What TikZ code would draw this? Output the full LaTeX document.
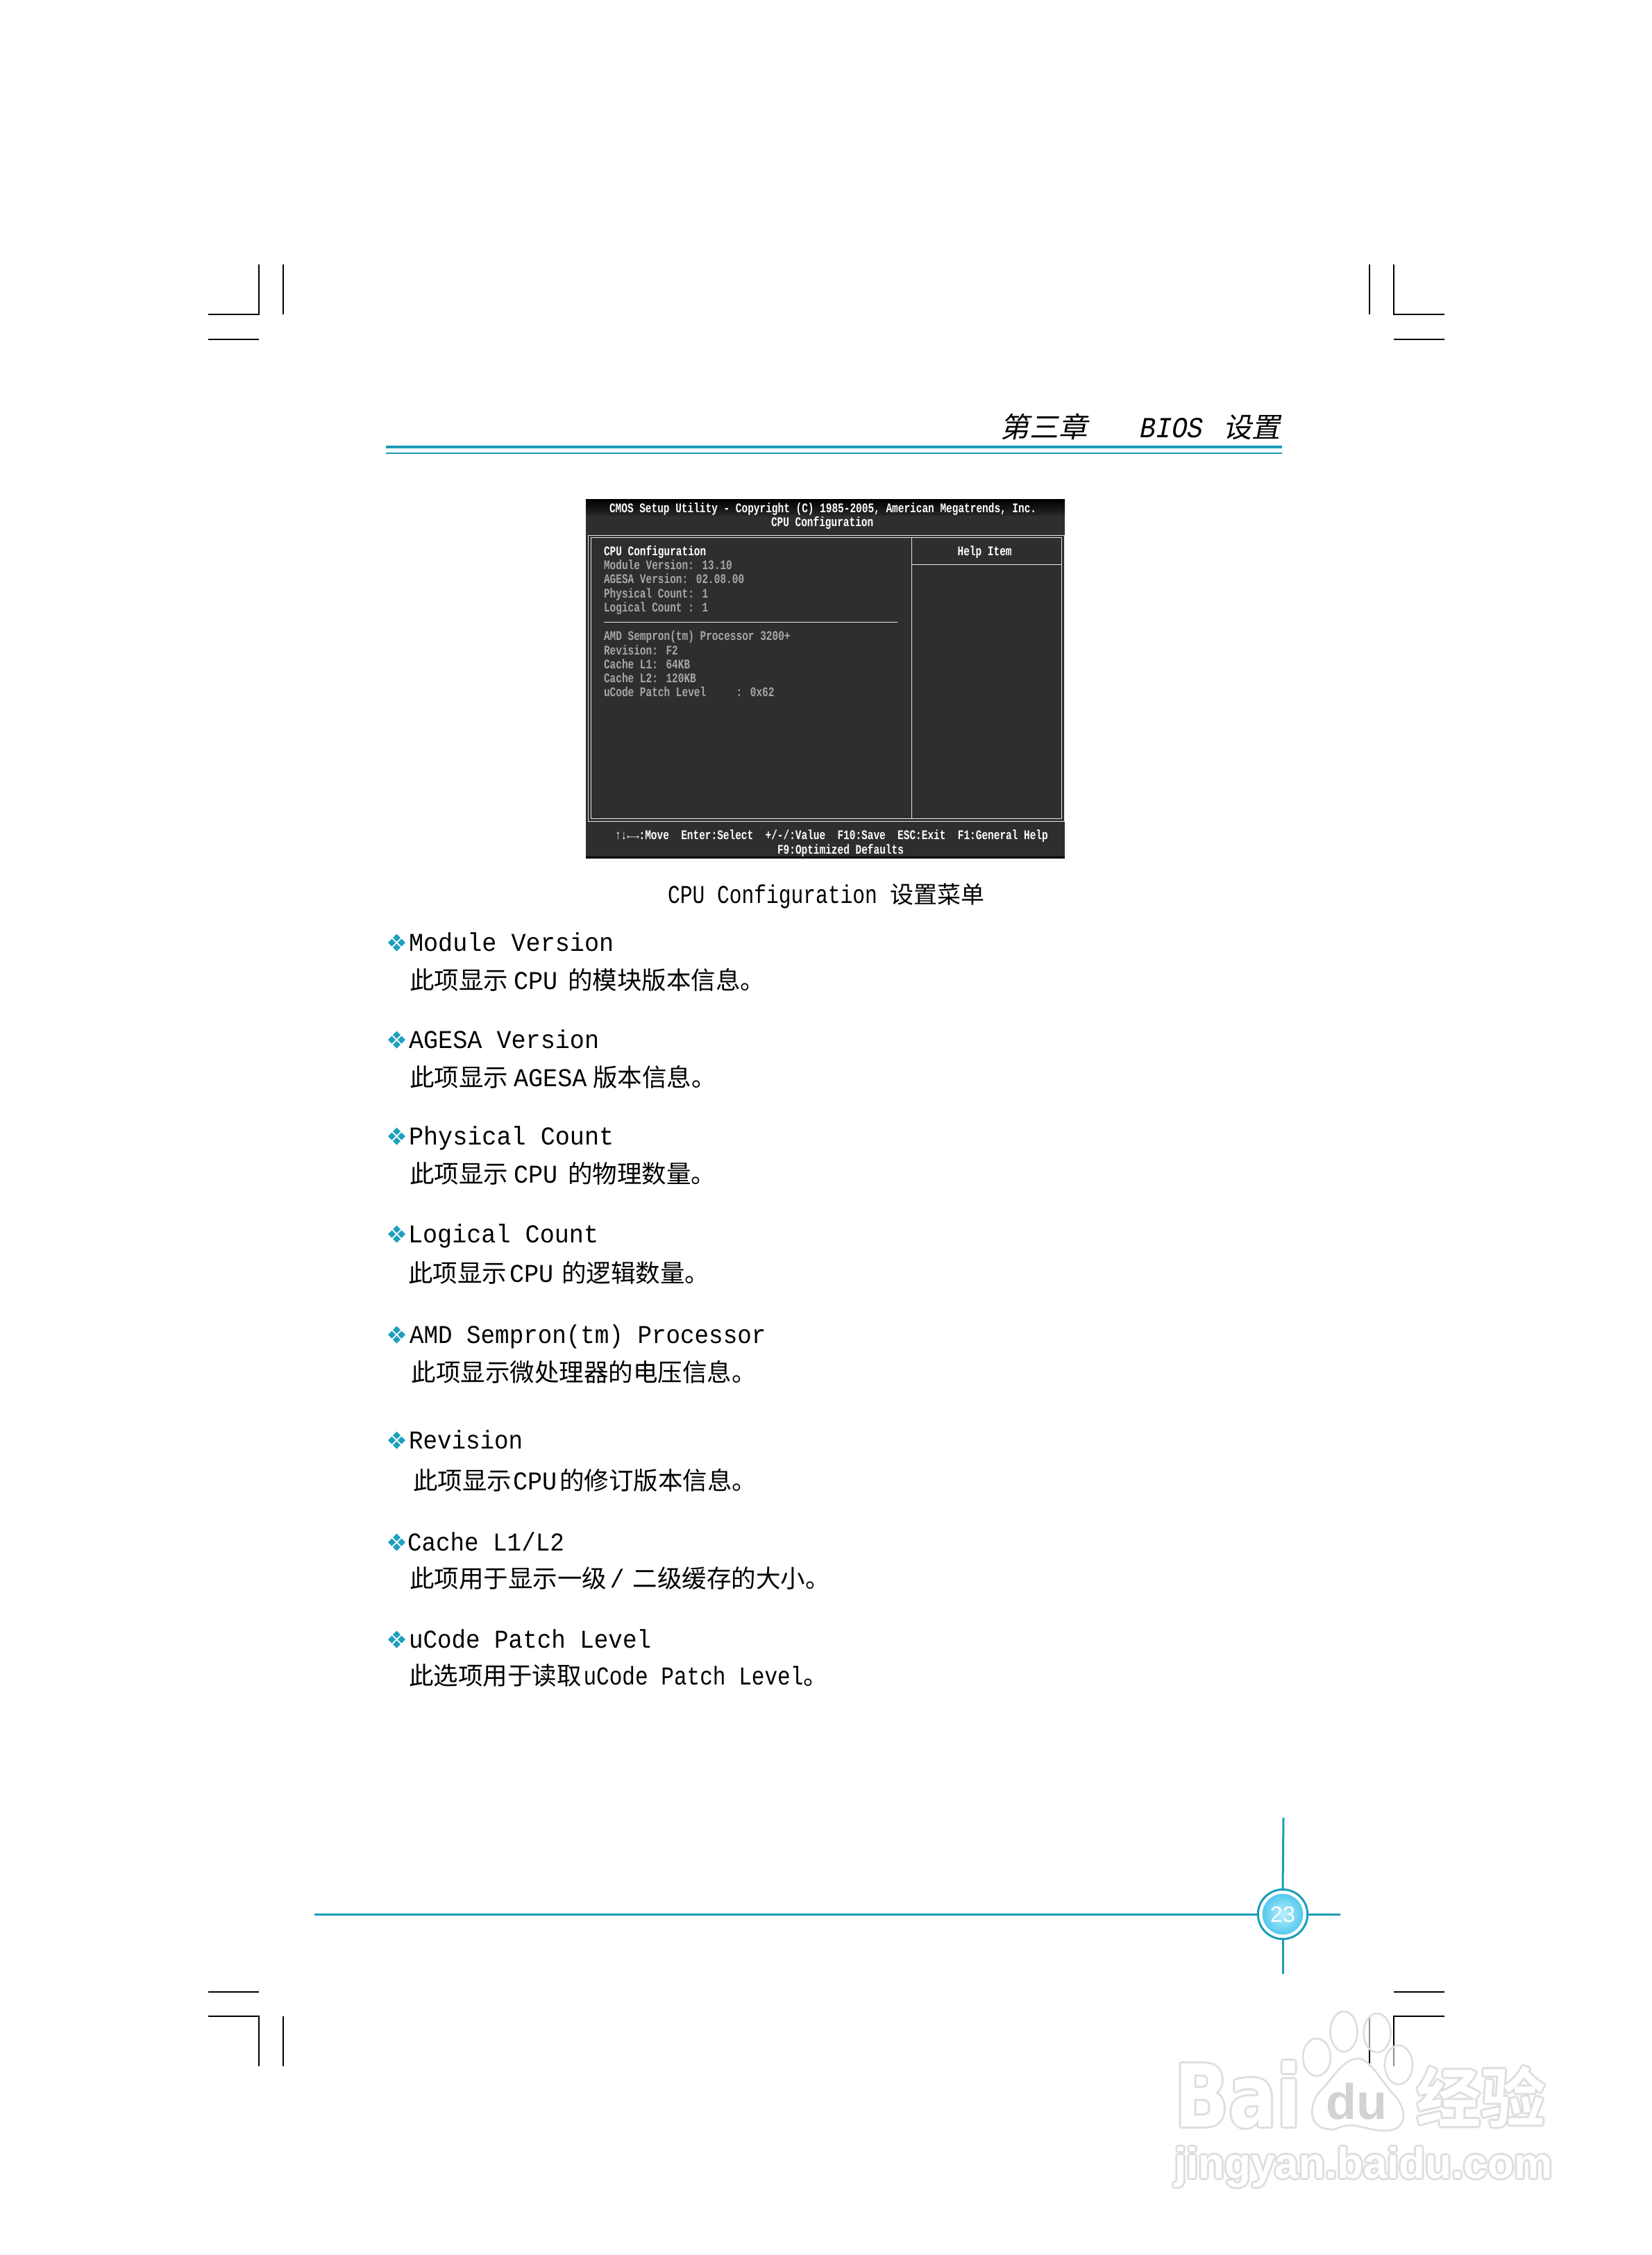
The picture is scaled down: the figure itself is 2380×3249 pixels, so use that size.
\documentclass[tikz,border=0pt]{standalone}
\usepackage{fontspec}
\setmainfont{Liberation Mono}
\newfontfamily\latf[FakeStretch=.95]{Liberation Mono}
\newfontfamily\lats[FakeStretch=.925]{Liberation Mono}
\newfontfamily\latu[FakeStretch=.84]{Liberation Mono}
\newfontfamily\latn[FakeStretch=.8]{Liberation Mono}
\newfontfamily\cjk{Noto Sans CJK SC}
\newfontfamily\cjkb{Noto Sans CJK SC Bold}
\newfontfamily\cjks[FakeSlant=.2,FakeStretch=1.03]{Noto Sans CJK SC}
\newfontfamily\hdrf[FakeSlant=.2,FakeStretch=.9]{Liberation Mono}
\newfontfamily\biosf[FakeStretch=.76]{Liberation Mono Bold}
\newfontfamily\numf{Liberation Sans}
\newfontfamily\wmbig[FakeStretch=.82]{DejaVu Sans Bold}
\newfontfamily\wmreg{Liberation Sans Bold}
\definecolor{bandteal}{HTML}{1A9CB8}
\definecolor{bulletteal}{HTML}{1F9FBE}
\definecolor{biosbg}{HTML}{2E2E2E}
\definecolor{biosgrey}{HTML}{A6A6A6}
\definecolor{biosline}{HTML}{E8E8E8}
\definecolor{wmgrey}{HTML}{DEDEDE}
\definecolor{wmdu}{HTML}{D2D2D2}
\definecolor{pginner}{HTML}{B8F0FB}
\definecolor{pgouter}{HTML}{55C8EE}
\newcommand\LL[1]{{\latf\fontsize{11.1}{13}\selectfont #1}}
\newcommand\LU[1]{{\latu\fontsize{11.1}{13}\selectfont #1}}
\newcommand\LN[1]{{\latn\fontsize{11.1}{13}\selectfont #1}}
\newcommand\wmtext[5]{%
  \foreach \dx/\dy [count=\k] in {-3/0,3/0,0/-3,0/3,-2/-2,2/-2,-2/2,2/2}{%
    \node[wmbase,text=wmgrey,font=#4,name=#1\k] at (#2+\dx,#3+\dy) {#5};}
  \node[wmbase,text=white,font=#4] (#1) at (#2,#3) {#5};}
\tikzset{
  crop/.style={line width=.6pt,black},
  band/.style={bandteal,line width=.9pt},
  head/.style={anchor=base west,inner sep=0,outer sep=0,font=\latf\fontsize{11.1}{13}\selectfont},
  headn/.style={anchor=base west,inner sep=0,outer sep=0,font=\lats\fontsize{11.1}{13}\selectfont},
  bodytxt/.style={anchor=base west,inner sep=0,outer sep=0,font=\cjk\fontsize{10.65}{13}\selectfont},
  bios/.style={anchor=base west,inner sep=0,outer sep=0,text=biosgrey,font=\biosf\fontsize{5.7}{7}\selectfont},
  biosw/.style={bios,text=white},
  bframe/.style={biosline,line width=.3pt},
  wmbase/.style={anchor=base west,inner sep=0,outer sep=0},
  wmline/.style={wmgrey,line width=.8pt,fill=white,fill opacity=.55},
  bulletmark/.pic={
    \foreach \cx/\cy in {0/-7,7/0,0/7,-7/0}{
      \fill[bulletteal] (\cx,\cy-5.5) -- (\cx+5.5,\cy) -- (\cx,\cy+5.5) -- (\cx-5.5,\cy) -- cycle;}
  }
}
\begin{document}
\begin{tikzpicture}[x=.3pt,y=-.3pt]
\useasboundingbox[fill=white] (0,0) rectangle (2380,3249);
% crop marks
\draw[crop] (300,453) -- (373,453) -- (373,381);
\draw[crop] (408,381) -- (408,453);
\draw[crop] (300,489) -- (373,489);
\draw[crop] (1973,381) -- (1973,453);
\draw[crop] (2008,381) -- (2008,453) -- (2081,453);
\draw[crop] (2008,489) -- (2081,489);
\draw[crop] (300,2870) -- (373,2870);
\draw[crop] (300,2905) -- (373,2905) -- (373,2977);
\draw[crop] (408,2905) -- (408,2977);
\draw[crop] (2008,2870) -- (2081,2870);
\draw[crop] (2081,2905) -- (2008,2905) -- (2008,2977);
\draw[crop] (1973,2905) -- (1973,2977);
% header
\node[anchor=base west,inner sep=0,font=\cjks\fontsize{12.2}{14}\selectfont] (h1) at (1441,630) {第三章};
\node[anchor=base west,inner sep=0,font=\hdrf\fontsize{12.6}{14}\selectfont] (h2) at (1640,630) {BIOS};
\node[anchor=base west,inner sep=0,font=\cjks\fontsize{12}{14}\selectfont] (h3) at (1762,630) {设置};
\draw[bandteal,line width=1.35pt] (556,644) -- (1847,644);
\draw[bandteal,line width=.75pt] (556,653) -- (1847,653);
% BIOS screen
\fill[biosbg] (844,719) rectangle (1534,1237);
\shade[top color=black,bottom color=black!85!white] (844,719) rectangle (1534,742);
\fill[black] (844,1234) rectangle (1534,1237);
\draw[bframe] (847,771) rectangle (1533,1183);
\draw[bframe] (851,774) rectangle (1529.5,1179);
\draw[bframe] (1313.5,774) -- (1313.5,1179);
\draw[bframe] (1313.5,813.6) -- (1529.5,813.6);
\draw[bframe] (870,896) -- (1292.5,896);
\node[biosw] (b1) at (878,738) {CMOS Setup Utility - Copyright (C) 1985-2005, American Megatrends, Inc.};
\node[biosw] (b2) at (1111,758) {CPU Configuration};
\node[biosw] (b3) at (870,800) {CPU Configuration};
\node[bios] (b4) at (870,820) {Module Version: 13.10};
\node[bios] (b5) at (870,840) {AGESA Version: 02.08.00};
\node[bios] (b6) at (870,861) {Physical Count: 1};
\node[bios] (b7) at (870,881) {Logical Count : 1};
\node[bios] (b8) at (870,922) {AMD Sempron(tm) Processor 3200+};
\node[bios] (b9) at (870,943.6) {Revision: F2};
\node[bios] (b10) at (870,963.6) {Cache L1: 64KB};
\node[bios] (b11) at (870,983) {Cache L2: 120KB};
\node[bios] (b12) at (870,1003.6) {uCode Patch Level~~~~~: 0x62};
\node[biosw] (b13) at (1379.6,800) {Help Item};
\node[biosw] (b14) at (886,1209) {↑↓←→:Move~~Enter:Select~~+/-/:Value~~F10:Save~~ESC:Exit~~F1:General Help};
\node[biosw] (b15) at (1120,1230) {F9:Optimized Defaults};
% caption
\node[bodytxt,font=\cjk\fontsize{10.2}{13}\selectfont] (cap) at (962,1301) {\LN{CPU Configuration}\hspace{5.6pt}设置菜单};
% items
\pic at (571.5,1358) {bulletmark};
\node[head] (t1) at (589,1370) {Module Version};
\node[bodytxt] (d1) at (590,1425) {此项显示\hspace{2.4pt}\LL{CPU}\hspace{4.5pt}的模块版本信息。};
\pic at (571.5,1498) {bulletmark};
\node[head] (t2) at (589,1510) {AGESA Version};
\node[bodytxt] (d2) at (590,1565) {此项显示\hspace{2.4pt}\LL{AGESA}\hspace{2.7pt}版本信息。};
\pic at (571.5,1637) {bulletmark};
\node[head] (t3) at (589,1649) {Physical Count};
\node[bodytxt] (d3) at (590,1704) {此项显示\hspace{2.4pt}\LL{CPU}\hspace{4.5pt}的物理数量。};
\pic at (571.5,1778) {bulletmark};
\node[head] (t4) at (588,1790) {Logical Count};
\node[bodytxt] (d4) at (588,1847) {此项显示\hspace{1.2pt}\LL{CPU}\hspace{3.6pt}的逻辑数量。};
\pic at (571.5,1923) {bulletmark};
\node[headn] (t5) at (590,1935) {AMD Sempron(tm) Processor};
\node[bodytxt] (d5) at (592.5,1990) {此项显示微处理器的电压信息。};
\pic at (571.5,2075) {bulletmark};
\node[headn] (t6) at (589,2087) {Revision};
\node[bodytxt] (d6) at (595,2146) {此项显示\hspace{.6pt}\LL{CPU}\hspace{1.2pt}的修订版本信息。};
\pic at (571.5,2222) {bulletmark};
\node[headn] (t7) at (587,2234) {Cache L1/L2};
\node[bodytxt] (d7) at (590,2287) {此项用于显示一级\hspace{1.4pt}\LL{/}\hspace{3.6pt}二级缓存的大小。};
\pic at (571.5,2362) {bulletmark};
\node[headn] (t8) at (589,2374) {uCode Patch Level};
\node[bodytxt] (d8) at (589,2427) {此选项用于读取\hspace{.9pt}\LU{uCode Patch Level}。};
% footer
\coordinate (fl) at (453,2758);
\coordinate (fr) at (1931,2758);
\coordinate (ft) at (1849,2619);
\coordinate (fb) at (1848,2844);
\node[circle,draw=bandteal,line width=.9pt,fill=white,minimum size=21.4pt,inner sep=0,outer sep=0] (pg) at (1848,2758) {};
\draw[band] (fl) -- (pg.west);
\draw[band] (pg.east) -- (fr);
\draw[band] (ft) -- (pg.north);
\draw[band] (pg.south) -- (fb);
\node[circle,inner color=pginner,outer color=pgouter,minimum size=17.6pt,inner sep=0,text=white,font=\numf\fontsize{9.6}{11}\selectfont] (pgn) at (pg.center) {23};
% watermark
\draw[wmline] (1956,2966) .. controls (1975,2966) and (1990,3000) .. (2010,3020) .. controls (2030,3045) and (2025,3070) .. (1995,3070) .. controls (1975,3070) and (1960,3062) .. (1945,3062) .. controls (1930,3062) and (1925,3070) .. (1915,3068) .. controls (1885,3065) and (1885,3035) .. (1900,3015) .. controls (1920,2995) and (1935,2966) .. (1956,2966) -- cycle;
\draw[wmline] (1897,2964) circle[x radius=20,y radius=27];
\draw[wmline] (1936,2927) circle[x radius=19.5,y radius=29];
\draw[wmline] (1984,2929) circle[x radius=19.5,y radius=28];
\draw[wmline] (2015,2975) circle[x radius=20,y radius=28];
\wmtext{wa}{1692}{3064}{\wmbig\fontsize{37.5}{40}\selectfont}{Bai}
\node[wmbase,text=wmdu,font=\wmreg\fontsize{21.6}{24}\selectfont] (wd) at (1910,3053) {du};
\wmtext{wc}{2040}{3057}{\cjkb\fontsize{28}{30}\selectfont}{经验}
\wmtext{we}{1692}{3138}{\wmreg\fontsize{18.6}{20}\selectfont}{jingyan.baidu.com}
\end{tikzpicture}
\end{document}
